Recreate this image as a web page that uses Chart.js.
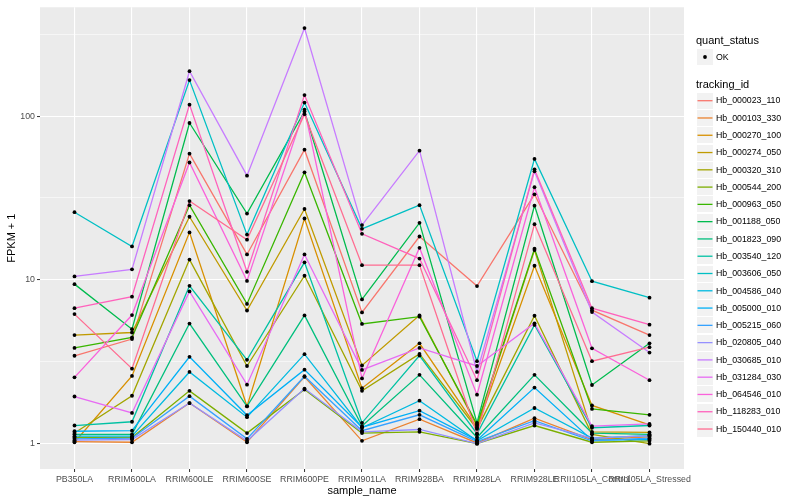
<!DOCTYPE html>
<html>
<head>
<meta charset="utf-8">
<script src="https://cdn.jsdelivr.net/npm/chart.js@4/dist/chart.umd.min.js"></script>
<style>
html,body{margin:0;padding:0;background:#ffffff;}
#wrap{position:relative;width:800px;height:500px;overflow:hidden;}
#c{position:absolute;left:0;top:0;}
.lt{position:absolute;font-family:"Liberation Sans",Arial,Helvetica,sans-serif;color:#000;white-space:nowrap;}
.key{position:absolute;background:#F2F2F2;}
.key svg{position:absolute;left:0;top:0;}
</style>
</head>
<body>
<div id="wrap">
<canvas id="c" width="800" height="500"></canvas>
<div id="legend"></div>
</div>
<script>
// ---------------- data ----------------
const categories = ["PB350LA","RRIM600LA","RRIM600LE","RRIM600SE","RRIM600PE","RRIM901LA",
  "RRIM928BA","RRIM928LA","RRIM928LE","RRII105LA_Control","RRII105LA_Stressed"];

const yMajorTicks = [1, 10, 100];
const yMinorTicks = [3.1623, 31.623, 316.23];

const seriesNames = ["Hb_000023_110","Hb_000103_330","Hb_000270_100","Hb_000274_050","Hb_000320_310",
  "Hb_000544_200","Hb_000963_050","Hb_001188_050","Hb_001823_090","Hb_003540_120",
  "Hb_003606_050","Hb_004586_040","Hb_005000_010","Hb_005215_060","Hb_020805_040",
  "Hb_030685_010","Hb_031284_030","Hb_064546_010","Hb_118283_010","Hb_150440_010"];

const seriesColors = ["#F8766D","#EA8331","#D89000","#C09B00","#A3A500","#7CAE00","#39B600","#00BB4E",
  "#00BF7D","#00C1A3","#00BFC4","#00BAE0","#00B0F6","#35A2FF","#9590FF","#C77CFF","#E76BF3",
  "#FA62DB","#FF62BC","#FF6C91"];

const hb_000023_110 = [3.44, 4.35, 59.0, 14.3, 62.4, 6.33, 18.4, 9.16, 33.3, 6.53, 4.6];
const hb_000103_330 = [1.03, 1.02, 1.77, 1.02, 2.56, 1.04, 1.41, 1.01, 1.43, 1.06, 1.10];
const hb_000270_100 = [1.02, 2.59, 19.5, 1.69, 23.7, 2.18, 4.1, 1.25, 12.2, 1.71, 1.30];
const hb_000274_050 = [4.6, 4.77, 24.3, 6.5, 27.1, 3.0, 6.07, 1.28, 15.2, 1.18, 1.17];
const hb_000320_310 = [1.16, 1.96, 13.3, 2.98, 10.6, 2.1, 3.53, 1.23, 6.04, 1.14, 1.0];
const hb_000544_200 = [1.09, 1.09, 2.1, 1.16, 2.14, 1.16, 1.18, 1.0, 1.29, 1.02, 1.04];
const hb_000963_050 = [3.84, 4.45, 28.6, 7.13, 45.4, 5.38, 5.96, 1.31, 15.5, 1.63, 1.50];
const hb_001188_050 = [9.42, 5.0, 90.8, 25.4, 106.7, 7.6, 22.3, 1.34, 28.4, 2.28, 4.1];
const hb_001823_090 = [1.14, 1.14, 5.41, 1.69, 6.07, 1.28, 2.63, 1.09, 2.63, 1.16, 1.14];
const hb_003540_120 = [1.29, 1.36, 9.2, 3.25, 12.8, 1.34, 3.45, 1.15, 5.31, 1.25, 1.29];
const hb_003606_050 = [25.9, 16.0, 166, 18.9, 121, 20.5, 28.6, 3.19, 54.8, 9.82, 7.79];
const hb_004586_040 = [1.11, 1.11, 2.74, 1.45, 3.52, 1.25, 1.83, 1.04, 1.65, 1.08, 1.12];
const hb_005000_010 = [1.19, 1.20, 3.39, 1.49, 2.83, 1.26, 1.59, 1.05, 2.2, 1.05, 1.06];
const hb_005215_060 = [1.07, 1.08, 1.95, 1.07, 2.58, 1.2, 1.5, 1.03, 1.38, 1.04, 1.08];
const hb_020805_040 = [1.05, 1.06, 1.77, 1.04, 2.17, 1.18, 1.22, 1.0, 1.34, 1.08, 1.12];
const hb_030685_010 = [10.5, 11.6, 188, 43.3, 345, 21.6, 61.5, 2.74, 46.0, 6.36, 3.6];
const hb_031284_030 = [1.94, 1.54, 8.5, 2.29, 14.3, 2.82, 3.84, 2.98, 5.43, 1.28, 1.32];
const hb_064546_010 = [2.54, 6.1, 52.1, 9.86, 109.7, 2.5, 15.7, 1.99, 36.8, 3.82, 2.44];
const hb_118283_010 = [6.72, 7.9, 117.5, 11.2, 134.5, 19.1, 13.5, 2.44, 47.3, 6.72, 5.33];
const hb_150440_010 = [6.18, 2.87, 30.3, 17.6, 102.8, 12.3, 12.3, 1.14, 21.9, 3.19, 3.88];

const seriesValues = [hb_000023_110, hb_000103_330, hb_000270_100, hb_000274_050, hb_000320_310,
  hb_000544_200, hb_000963_050, hb_001188_050, hb_001823_090, hb_003540_120,
  hb_003606_050, hb_004586_040, hb_005000_010, hb_005215_060, hb_020805_040,
  hb_030685_010, hb_031284_030, hb_064546_010, hb_118283_010, hb_150440_010];

// ---------------- chart ----------------
const FONT = '"Liberation Sans", Arial, Helvetica, sans-serif';
const n = seriesNames.length;

const datasets = seriesValues.map((vals, s) => ({
  label: seriesNames[s],
  data: vals.map((v, i) => ({x: i, y: v})),
  borderColor: seriesColors[s],
  backgroundColor: seriesColors[s],
  borderWidth: 1.3,
  pointRadius: 0,
  tension: 0,
  fill: false,
  order: n - s
}));

// black points for quant_status = OK, drawn on top of all lines
datasets.push({
  label: 'OK',
  data: seriesValues.flatMap(vals => vals.map((v, i) => ({x: i, y: v}))),
  showLine: false,
  pointRadius: 1.9,
  pointBackgroundColor: '#000',
  pointBorderColor: '#000',
  pointBorderWidth: 0,
  order: -1
});

const panelBg = {
  id: 'panelBg',
  beforeDraw(chart) {
    const {ctx, chartArea: a} = chart;
    ctx.save();
    ctx.fillStyle = '#EBEBEB';
    ctx.fillRect(a.left, a.top, a.right - a.left, a.bottom - a.top);
    ctx.restore();
  }
};

const isMajorY = v => yMajorTicks.includes(v);

new Chart(document.getElementById('c'), {
  type: 'line',
  data: {datasets},
  plugins: [panelBg],
  options: {
    responsive: false,
    animation: false,
    devicePixelRatio: 1,
    events: [],
    layout: {padding: {top: 5, right: 116, bottom: 0, left: 0}},
    plugins: {legend: {display: false}, tooltip: {enabled: false}},
    scales: {
      x: {
        type: 'linear',
        min: -0.6,
        max: 10.6,
        afterBuildTicks: s => { s.ticks = categories.map((c, i) => ({value: i})); },
        afterFit: s => { s.height = 31; },
        border: {display: false},
        grid: {color: '#FFFFFF', lineWidth: 1.1, drawTicks: true, tickLength: 3, tickColor: '#333333', tickWidth: 1},
        ticks: {
          autoSkip: false, maxRotation: 0, minRotation: 0, padding: 2,
          color: '#4D4D4D', font: {family: FONT, size: 8.8},
          callback: v => categories[v] !== undefined ? categories[v] : ''
        },
        title: {display: true, text: 'sample_name', color: '#000', font: {family: FONT, size: 11}, padding: {top: 0, bottom: 2}}
      },
      y: {
        type: 'logarithmic',
        min: 0.746,
        max: 462,
        afterBuildTicks: s => {
          s.ticks = yMajorTicks.concat(yMinorTicks).sort((a, b) => a - b).map(v => ({value: v}));
        },
        afterFit: s => { s.width = 40; },
        border: {display: false},
        grid: {
          color: '#FFFFFF',
          lineWidth: c => (c.tick && isMajorY(c.tick.value)) ? 1.1 : 0.55,
          drawTicks: true, tickLength: 3,
          tickColor: c => (c.tick && isMajorY(c.tick.value)) ? '#333333' : 'rgba(0,0,0,0)',
          tickWidth: 1
        },
        ticks: {
          padding: 2, color: '#4D4D4D', font: {family: FONT, size: 8.8},
          callback: v => isMajorY(v) ? String(v) : ''
        },
        title: {display: true, text: 'FPKM + 1', color: '#000', font: {family: FONT, size: 11}, padding: {top: 5.4, bottom: 0}}
      }
    }
  }
});

// ---------------- legend (ggplot style) ----------------
const legend = document.getElementById('legend');
const SVGNS = 'http://www.w3.org/2000/svg';
function addText(txt, x, yc, size) {
  const d = document.createElement('div');
  d.className = 'lt';
  d.style.left = x + 'px';
  d.style.top = (yc - size * 0.6) + 'px';
  d.style.fontSize = size + 'px';
  d.style.lineHeight = (size * 1.2) + 'px';
  d.textContent = txt;
  legend.appendChild(d);
}
function addKey(yc) {
  const top = Math.round(yc - 8);
  const k = document.createElement('div');
  k.className = 'key';
  k.style.left = '697px';
  k.style.top = top + 'px';
  k.style.width = '16px';
  k.style.height = '16px';
  legend.appendChild(k);
  const svg = document.createElementNS(SVGNS, 'svg');
  svg.setAttribute('width', '16');
  svg.setAttribute('height', '16');
  k.appendChild(svg);
  return {svg, cy: yc - top};
}
addText('quant_status', 696, 40.5, 11);
const okKey = addKey(57);
const dot = document.createElementNS(SVGNS, 'circle');
dot.setAttribute('cx', '8'); dot.setAttribute('cy', String(okKey.cy)); dot.setAttribute('r', '1.9');
dot.setAttribute('fill', '#000');
okKey.svg.appendChild(dot);
addText('OK', 716, 57, 8.8);

addText('tracking_id', 696, 84.3, 11);
seriesNames.forEach((name, s) => {
  const yc = 100.7 + s * 17.28;
  const k = addKey(yc);
  const ln = document.createElementNS(SVGNS, 'line');
  ln.setAttribute('x1', '0.5'); ln.setAttribute('x2', '15.5');
  ln.setAttribute('y1', String(k.cy)); ln.setAttribute('y2', String(k.cy));
  ln.setAttribute('stroke', seriesColors[s]);
  ln.setAttribute('stroke-width', '1.3');
  k.svg.appendChild(ln);
  addText(name, 716, yc, 8.8);
});
</script>
</body>
</html>
